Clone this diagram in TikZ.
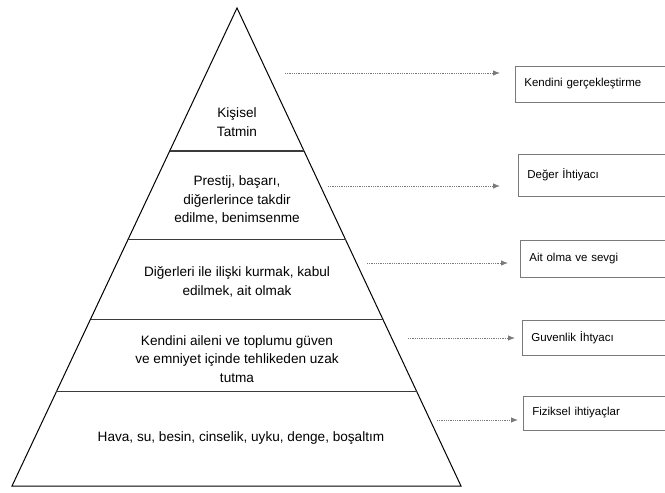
\documentclass[tikz,border=0pt]{standalone}
\usepackage{fontspec}
\setmainfont{Liberation Sans}
\usepackage{tikz}
\usetikzlibrary{arrows.meta, positioning, calc}
\usepackage{xcolor}
\definecolor{inkgray}{HTML}{3A3A3A}
\definecolor{boxgray}{HTML}{7A7A7A}

\begin{document}
\begin{tikzpicture}[
  x=1pt, y=-1pt,
  pyr/.style={draw=black, line width=1pt, line join=miter},
  divider/.style={draw=inkgray, line width=1.2pt},
  tier/.style={align=center, font=\fontsize{13.6}{18.3}\selectfont, inner sep=0pt},
  need/.style={draw=boxgray, line width=0.7pt, anchor=west, text width=200pt,
    inner xsep=9pt, font=\fontsize{11.5}{13.5}\selectfont},
  link/.style={densely dotted, boxgray, line width=0.8pt,
    -{Latex[length=7pt,width=5.5pt]}},
  >=Stealth
]
  \clip (0,0) rectangle (665,493);

  % Pyramid
  \coordinate (apex) at (237,8);
  \coordinate (bl) at (12,486);
  \coordinate (br) at (461,486);
  \draw[pyr] (apex) -- (br) -- (bl) -- cycle;

  % Dividers between the levels
  \foreach \f [count=\i] in {0.299,0.485,0.651,0.803} {
    \coordinate (l\i) at ($(apex)!\f!(bl)$);
    \coordinate (r\i) at ($(apex)!\f!(br)$);
    \draw[divider] (l\i) -- (r\i);
  }

  % Level texts
  \node[tier] (t1) at (237,122) {Kişisel\\Tatmin};
  \node[tier] (t2) at (237,200) {Prestij, başarı,\\diğerlerince takdir\\edilme, benimsenme};
  \node[tier] (t3) at (237,282) {Diğerleri ile ilişki kurmak, kabul\\edilmek, ait olmak};
  \node[tier] (t4) at (237,359) {Kendini aileni ve toplumu güven\\ve emniyet içinde tehlikeden uzak\\tutma};
  \node[tier] (t5) at (241,438) {Hava, su, besin, cinselik, uyku, denge, boşaltım};

  % Needs on the right, with dotted arrows
  \foreach \txt/\bx/\by/\bh/\sx/\sy/\gap [count=\i] in {
      Kendini gerçekleştirme/515/84/36/285/73/15,
      Değer İhtiyacı/518/175/42/328/186/18,
      Ait olma ve sevgi/520/259/37/367/263/12,
      Guvenlik İhtyacı/522/338/35/408/338/7,
      Fiziksel ihtiyaçlar/523/413/34/437/420/5} {
    \node[need, minimum height=\bh pt] (n\i) at (\bx,\by) {\txt};
    \coordinate (s\i) at (\sx,\sy);
    \draw[link, shorten >=\gap pt] (s\i) -- (s\i -| n\i.west);
  }
\end{tikzpicture}
\end{document}
